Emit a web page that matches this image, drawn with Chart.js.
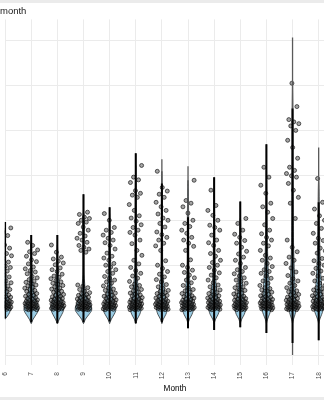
<!DOCTYPE html>
<html>
<head>
<title>Values by month</title>
<style>
  html, body { margin: 0; padding: 0; background: #ebebeb; overflow: hidden; }
  #wrap { position: absolute; left: 0; top: 3px; width: 324px; height: 394px; background: #fff; overflow: hidden; }
  canvas { display: block; }
</style>
</head>
<body>
<div id="wrap"><canvas id="myChart" width="350" height="394"></canvas></div>
<script src="https://cdn.jsdelivr.net/npm/chart.js"></script>
<script>
// months visible in the crop
const months = [6, 7, 8, 9, 10, 11, 12, 13, 14, 15, 16, 17, 18];

const pts6 = [0.1,0.2,0.3,0.3,0.4,0.5,0.6,0.7,0.7,0.8,0.9,1.0,1.0,1.1,1.2,1.3,1.4,1.4,1.5,1.6,1.7,1.8,1.9,2.0,2.1,2.2,2.4,2.5,2.7,2.9,3.0,3.2,3.4,3.6,3.9,4.1,4.3,4.6,4.8,5.1,5.4,5.8,6.1,6.5,6.9,7.4,7.8,8.2,8.7,9.0,9.5,9.8,10.3,10.7,11.5,12.1,12.6,13.2,13.8,14.5,15.2,16.6,17.4,18.3];
const pts7 = [0.1,0.1,0.2,0.3,0.4,0.4,0.5,0.6,0.7,0.8,0.8,0.9,1.0,1.1,1.1,1.2,1.3,1.4,1.5,1.5,1.6,1.7,1.8,1.9,2.0,2.1,2.2,2.3,2.5,2.6,2.8,3.0,3.1,3.3,3.5,3.7,3.9,4.2,4.4,4.6,4.9,5.1,5.4,5.6,5.9,6.2,6.5,6.8,7.2,7.5,8.1,8.5,8.8,9.2,9.6,10.3,10.8,11.2,12.0,12.6,13.0,13.4,14.4,15.1];
const pts8 = [0.1,0.2,0.3,0.3,0.4,0.5,0.6,0.6,0.7,0.8,0.9,1.0,1.0,1.1,1.2,1.3,1.3,1.4,1.5,1.6,1.7,1.8,1.9,2.0,2.1,2.2,2.4,2.5,2.6,2.8,3.0,3.1,3.3,3.5,3.7,4.0,4.2,4.4,4.7,4.9,5.2,5.5,5.8,6.0,6.3,6.6,7.0,7.3,7.6,8.0,8.6,9.0,9.4,10.1,10.5,10.9,11.4,11.8,12.9,14.5];
const pts9 = [0.1,0.1,0.2,0.2,0.3,0.4,0.4,0.5,0.6,0.6,0.7,0.8,0.8,0.9,1.0,1.0,1.1,1.2,1.2,1.3,1.4,1.5,1.5,1.6,1.7,1.8,1.9,2.0,2.1,2.2,2.3,2.5,2.6,2.8,2.9,3.1,3.3,3.5,3.7,3.9,4.2,4.6,5.0,5.3,5.6,12.9,13.3,13.6,14.0,14.4,15.1,15.6,16.0,16.5,17.1,17.8,18.5,19.3,19.6,20.0,20.4,20.7,21.3,21.8];
const pts10 = [0.1,0.2,0.3,0.3,0.4,0.5,0.6,0.7,0.7,0.8,0.9,1.0,1.1,1.1,1.2,1.3,1.4,1.5,1.6,1.7,1.8,1.9,2.0,2.1,2.3,2.4,2.6,2.8,2.9,3.1,3.3,3.6,3.8,4.1,4.4,4.7,5.0,5.4,6.0,6.3,6.7,7.1,7.5,8.2,8.6,9.0,9.6,10.0,10.4,11.1,11.6,12.0,12.7,13.6,14.4,15.0,15.6,16.0,16.7,17.3,17.8,18.4,20.0,21.5];
const pts11 = [0.1,0.1,0.2,0.3,0.4,0.4,0.5,0.6,0.7,0.7,0.8,0.9,1.0,1.0,1.1,1.2,1.3,1.4,1.4,1.5,1.6,1.7,1.8,1.9,2.0,2.1,2.2,2.3,2.5,2.6,2.8,3.0,3.2,3.4,3.6,3.8,4.0,4.3,4.6,4.9,5.2,5.5,5.8,6.4,7.1,7.6,8.2,8.8,9.5,10.3,11.1,12.2,13.3,14.8,15.6,16.7,17.3,17.8,18.4,19.0,19.8,20.5,21.0,22.2,23.5,25.1,25.6,26.0,26.6,28.4,29.0,29.6,32.2];
const pts12 = [0.1,0.2,0.2,0.3,0.4,0.5,0.6,0.6,0.7,0.8,0.9,0.9,1.0,1.1,1.2,1.3,1.3,1.4,1.5,1.6,1.7,1.8,1.9,2.0,2.1,2.2,2.4,2.5,2.7,2.9,3.1,3.3,3.5,3.7,3.9,4.2,4.4,4.8,5.2,5.7,6.3,6.8,7.4,8.0,8.6,9.3,10.0,11.0,13.3,14.3,14.9,15.6,16.2,16.8,17.4,18.5,19.3,20.0,20.5,21.4,22.2,23.0,24.0,25.1,25.8,26.5,27.3,30.9];
const pts13 = [0.1,0.1,0.2,0.3,0.3,0.4,0.5,0.6,0.6,0.7,0.8,0.9,1.0,1.0,1.1,1.2,1.3,1.4,1.5,1.5,1.6,1.7,1.8,1.9,2.0,2.1,2.2,2.4,2.5,2.7,2.9,3.0,3.2,3.5,3.7,4.0,4.3,4.6,5.0,5.5,6.1,6.7,7.2,7.8,8.4,8.9,9.5,10.0,11.2,13.3,14.2,14.9,15.6,16.2,17.1,17.8,18.6,19.3,20.0,21.6,23.0,23.8,24.4,28.9];
const pts14 = [0.1,0.2,0.3,0.3,0.4,0.5,0.6,0.7,0.7,0.8,0.9,1.0,1.1,1.1,1.2,1.3,1.4,1.5,1.6,1.7,1.8,1.9,2.0,2.1,2.2,2.4,2.5,2.7,2.8,3.0,3.2,3.4,3.7,3.9,4.2,4.5,4.8,5.2,5.6,6.1,6.7,7.2,7.8,8.3,8.9,9.5,10.0,10.6,11.1,12.0,12.6,13.3,14.4,15.0,15.6,16.7,17.8,18.4,18.9,20.0,21.1,22.2,23.3,26.7];
const pts15 = [0.1,0.1,0.2,0.3,0.4,0.4,0.5,0.6,0.7,0.8,0.8,0.9,1.0,1.1,1.2,1.2,1.3,1.4,1.5,1.6,1.7,1.8,1.9,2.0,2.1,2.2,2.4,2.5,2.6,2.8,3.0,3.1,3.3,3.6,3.8,4.1,4.4,4.6,5.0,5.2,5.6,6.0,6.4,6.7,7.2,7.6,8.1,8.6,9.0,9.5,10.4,11.1,11.8,12.5,13.1,14.0,14.9,15.5,16.2,16.9,17.8,19.3,20.4];
const pts16 = [0.1,0.2,0.3,0.3,0.4,0.5,0.6,0.6,0.7,0.8,0.9,1.0,1.0,1.1,1.2,1.3,1.4,1.5,1.6,1.6,1.7,1.8,1.9,2.0,2.1,2.3,2.4,2.5,2.7,2.9,3.0,3.2,3.5,3.7,4.0,4.3,4.5,4.8,5.0,5.5,6.0,6.5,7.1,7.6,8.2,8.6,9.0,9.7,10.4,11.1,11.6,12.2,13.3,14.3,14.9,15.6,16.2,17.0,17.8,19.0,20.4,21.8,23.0,23.8,26.0,27.8,29.6,31.8];
const pts17 = [0.1,0.1,0.2,0.3,0.3,0.4,0.5,0.6,0.7,0.7,0.8,0.9,1.0,1.1,1.2,1.2,1.3,1.4,1.5,1.6,1.7,1.8,1.9,2.0,2.2,2.3,2.4,2.6,2.8,2.9,3.2,3.4,3.5,3.9,4.1,4.3,4.7,5.0,5.5,6.0,6.5,7.0,7.7,8.5,9.4,10.4,11.1,11.8,13.0,14.0,15.6,20.4,23.8,25.1,26.7,28.2,29.6,29.9,30.4,31.1,31.8,33.8,36.2,37.8,40.0,41.0,41.5,41.9,42.4,45.3,50.5];
const pts18 = [0.1,0.2,0.3,0.3,0.4,0.5,0.6,0.7,0.7,0.8,0.9,1.0,1.0,1.1,1.2,1.3,1.4,1.5,1.6,1.7,1.8,1.9,2.0,2.1,2.2,2.4,2.5,2.7,2.9,3.0,3.2,3.5,3.7,4.0,4.2,4.5,4.8,5.0,5.5,6.0,6.5,7.1,7.6,8.2,8.7,9.3,10.0,10.4,11.0,11.5,12.7,13.2,13.8,14.9,15.5,16.0,17.1,18.2,19.3,20.0,21.0,22.5,24.0,29.3];

// summary ranges: thick black bar and thin grey extension
const blackLow  = [-1.8, -2.7, -2.9, -2.7, -2.5, -2.9, -2.7, -4.0, -4.4, -3.8, -5.1, -7.3, -6.7];
const blackHigh = [19.6, 16.7, 16.7, 25.8, 22.9, 34.9, 28.2, 20.7, 29.6, 24.2, 36.9, 44.9, 24.0];
const grayLow   = [-1.8, -2.7, -2.9, -2.7, -2.5, -2.9, -2.7, -4.0, -4.4, -3.8, -5.1, -10.0, -6.7];
const grayHigh  = [19.6, 16.7, 16.7, 25.8, 22.9, 34.9, 33.6, 32.0, 29.6, 24.2, 36.9, 60.7, 36.2];

// violin density (relative) at these levels
const violinLevels = [-3, -2, -1, 0, 1, 2, 3, 4, 6, 8, 11, 15, 20, 27, 35, 45, 55];
const vio6  = [0, 0, 3.5, 5.5, 5, 4, 3, 2.2, 1.5, 1, 0.6, 0.4];
const vio7  = [0, 2, 5, 7.5, 7, 5.5, 4, 3, 2, 1.2, 0.7, 0.4];
const vio8  = [0, 2, 4.5, 6.5, 6.5, 5, 3.5, 2.5, 2, 1.2, 0.7, 0.4];
const vio9  = [0, 2, 5.5, 8.5, 8, 6, 3.5, 2, 1.2, 0.6, 0.5, 0.8, 0.9];
const vio10 = [0, 1.8, 4.5, 6.5, 6, 4.5, 3.5, 2.8, 2, 1.5, 1, 0.6, 0.3];
const vio11 = [0, 1.5, 4, 5.5, 5.5, 4.5, 3.5, 2.8, 2, 1.3, 0.9, 0.8, 0.7, 0.5];
const vio12 = [0, 1.5, 4, 5.5, 5.5, 4.5, 3.5, 2.8, 2, 1.2, 0.8, 0.7, 0.6, 0.4];
const vio13 = [0, 1.5, 4, 5.5, 5.5, 4.5, 3.5, 2.8, 2, 1.3, 0.9, 0.8, 0.7, 0.3];
const vio14 = [0, 1.5, 4, 5.5, 5.5, 4.5, 3.5, 2.8, 2, 1.4, 1, 0.8, 0.6, 0.3];
const vio15 = [0, 1.5, 4, 5.5, 5.5, 4.5, 3.5, 2.8, 2.2, 1.6, 1.1, 0.8, 0.4];
const vio16 = [0, 1.2, 3, 4.5, 4.5, 4.2, 3.8, 3.3, 2.8, 2.2, 1.5, 1, 0.7, 0.4];
const vio17 = [0, 1, 2.5, 3.5, 3.5, 3.3, 3, 2.8, 2.4, 2, 1.5, 1, 0.8, 0.7, 0.6, 0.4];
const vio18 = [0, 1.2, 3, 4.5, 4.5, 4.2, 3.8, 3.3, 2.8, 2.2, 1.6, 1.1, 0.7, 0.4];

const points = [pts6, pts7, pts8, pts9, pts10, pts11, pts12, pts13, pts14, pts15, pts16, pts17, pts18];
const violins = [vio6, vio7, vio8, vio9, vio10, vio11, vio12, vio13, vio14, vio15, vio16, vio17, vio18];

const FONT = "'Liberation Sans', Arial, sans-serif";
const violinScale = 0.037;   // month units per density unit
const jitterWidth = 0.5;

// closed outline: up the right side, back down the left side
function violinShape(m, dens, vals) {
    const top = Math.max(...vals);
    const first = dens.findIndex(d => d > 0);
    const side = [];
    for (let k = Math.max(first - 1, 0); k < violinLevels.length; k++) {
        if (violinLevels[k] >= top) break;
        side.push({ y: violinLevels[k], w: dens[k] || 0 });
    }
    side.push({ y: top, w: 0 });
    const right = side.map(p => ({ x: m + p.w * violinScale, y: p.y }));
    const left = side.slice(0, -1).reverse().map(p => ({ x: m - p.w * violinScale, y: p.y }));
    return right.concat(left);
}

function rangeSegments(lo, hi) {
    const d = [];
    months.forEach((m, i) => {
        d.push({ x: m, y: lo[i] }, { x: m, y: hi[i] }, { x: m, y: null });
    });
    return d;
}

const datasets = [];
months.forEach((m, i) => {
    datasets.push({
        data: violinShape(m, violins[i], points[i]),
        showLine: true,
        fill: 'shape',
        tension: 0.3,
        backgroundColor: '#99cbe3',
        borderColor: '#1a1a1a',
        borderWidth: 0.7,
        pointRadius: 0,
        order: 3
    });
});

const jittered = [];
months.forEach((m, i) => {
    points[i].forEach((v, k) => {
        const off = ((k * 0.618034 + i * 0.29) % 1) - 0.5;
        jittered.push({ x: m + off * jitterWidth, y: v });
    });
});
datasets.push({
    data: jittered,
    pointRadius: 2,
    backgroundColor: 'rgba(75,75,75,0.5)',
    borderColor: 'rgba(0,0,0,0.75)',
    borderWidth: 0.8,
    order: 2
});
datasets.push({
    data: rangeSegments(grayLow, grayHigh),
    showLine: true, borderColor: '#5a5a5a', borderWidth: 1.3, pointRadius: 0, order: 1
});
datasets.push({
    data: rangeSegments(blackLow, blackHigh),
    showLine: true, borderColor: '#000', borderWidth: 2, pointRadius: 0, order: 0
});

var ctx = document.getElementById('myChart').getContext('2d');
var chart = new Chart(ctx, {
    type: 'scatter',
    data: { datasets: datasets },
    options: {
        responsive: false,
        animation: false,
        devicePixelRatio: 1,
        events: [],
        layout: { padding: 0 },
        plugins: {
            legend: { display: false },
            tooltip: { enabled: false },
            title: {
                display: true, text: 'month', align: 'start', color: '#1a1a1a',
                font: { family: FONT, size: 9.5, weight: 'normal' },
                padding: { top: 3, bottom: 2 }
            }
        },
        scales: {
            x: {
                type: 'linear', min: 5.989, max: 19.015,
                ticks: {
                    stepSize: 1, includeBounds: false, autoSkip: false,
                    minRotation: 90, maxRotation: 90, padding: 7,
                    color: '#4d4d4d', font: { family: FONT, size: 6.6 }
                },
                grid: { color: '#ebebeb', lineWidth: 1, drawTicks: false },
                border: { display: false },
                title: {
                    display: true, text: 'Month', color: '#000',
                    font: { family: FONT, size: 8.2 }, padding: { top: 0, bottom: 3 }
                },
                afterFit: s => { s.height = 32; s.paddingLeft = 0; s.paddingRight = 0; }
            },
            y: {
                min: -12.2, max: 64.7,
                ticks: { display: false, stepSize: 10, includeBounds: false },
                grid: { color: '#ebebeb', lineWidth: 1, drawTicks: false },
                border: { display: false },
                afterFit: s => { s.width = 0; }
            }
        }
    }
});
</script>
</body>
</html>
